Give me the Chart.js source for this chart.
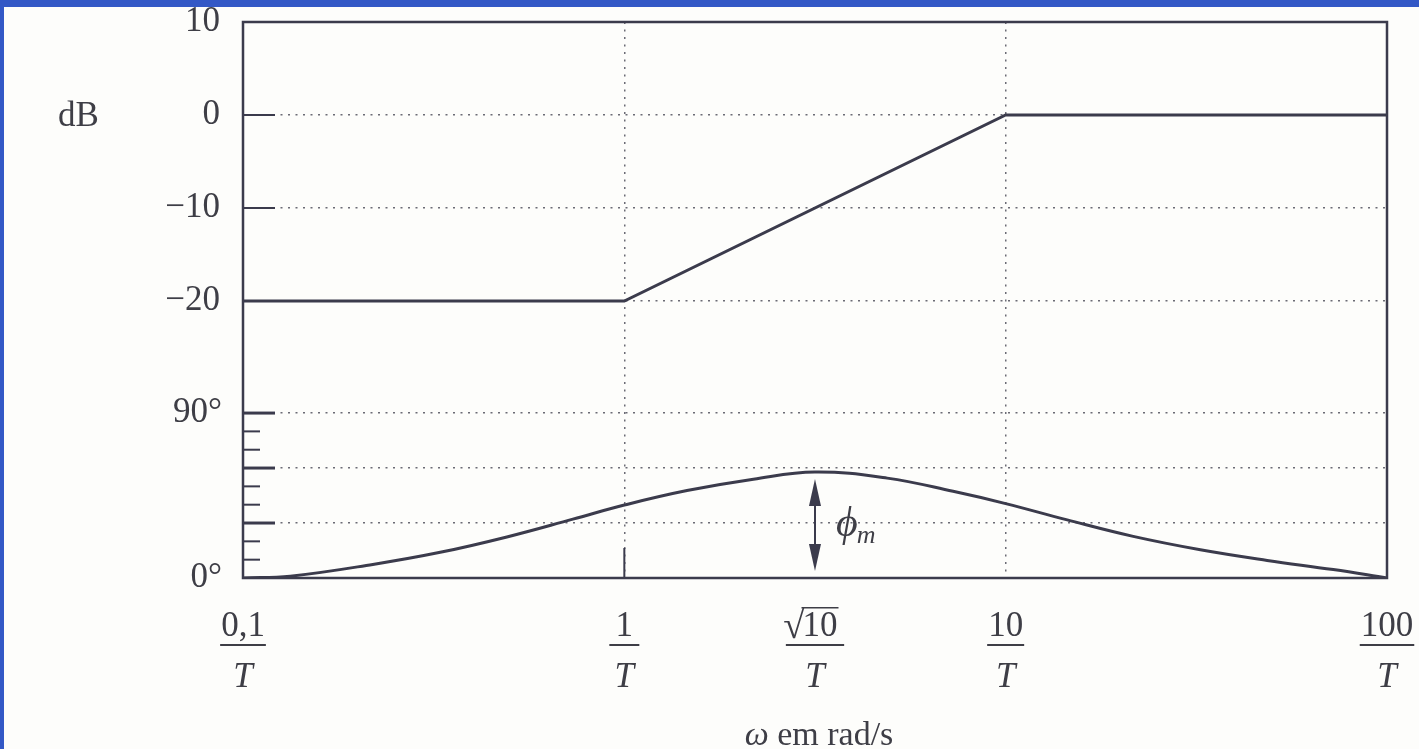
<!DOCTYPE html>
<html>
<head>
<meta charset="utf-8">
<script src="https://cdn.jsdelivr.net/npm/chart.js@4.4.1/dist/chart.umd.min.js"></script>
<style>
  html, body { margin: 0; padding: 0; width: 1419px; height: 749px; background: #3358c6; overflow: hidden; }
  #frame { position: absolute; left: 4px; top: 7px; width: 1415px; height: 742px; background: #fdfdfb; }
</style>
</head>
<body>
<div id="frame"><canvas id="bode"></canvas></div>
<script>
// Frequencies are in units of 1/T (logarithmic axis).
const omegaTicks = [0.1, 1, Math.sqrt(10), 10, 100];
const omegaNumerators = ['0,1', '1', '√10', '10', '100'];
const omegaGridLines = [1, 10];

// Asymptotic magnitude (dB)
const magOmega = [0.1, 1, 10, 100];
const magDb = [-20, -20, 0, 0];

// Phase of the lead network (degrees)
const phaseOmega = [0.1, 0.133, 0.219, 0.329, 0.492, 0.733, 1, 1.46, 2.18, 3.162, 4.89, 7.28, 10, 14.5, 21.6, 32.4, 48.5, 72.3, 100];
const phaseDeg   = [0, 1.0, 7.4, 14.0, 22.4, 32.1, 39.8, 47.7, 53.9, 57.8, 54.5, 47.3, 40.6, 31.7, 22.7, 15.4, 9.6, 4.6, 0];

// Tick sets
const dbTicks = [-20, -10, 0, 10];
const dbGridLines = [-20, -10, 0];
const degTicks = [0, 10, 20, 30, 40, 50, 60, 70, 80, 90];
const degLabelled = [0, 90];
const degMajor = [30, 60, 90];

const ink = '#3b3b4c';
const textInk = '#3e3e46';
const dots = '#6b6b75';
const clear = 'rgba(0,0,0,0)';
const serif = '"Liberation Serif", "Times New Roman", serif';

const toPoints = (xs, ys) => xs.map((x, i) => ({ x: x, y: ys[i] }));
const fmtDb = v => (v < 0 ? '\u2212' + Math.abs(v) : String(v));

const bodeDecor = {
  id: 'bodeDecor',
  afterDraw(chart) {
    const ctx = chart.ctx;
    const area = chart.chartArea;
    const xs = chart.scales.x;
    const ym = chart.scales.yMag;
    const yp = chart.scales.yPhase;
    ctx.save();

    // inward tick marks on the left edge
    ctx.strokeStyle = ink;
    ctx.lineCap = 'butt';
    dbGridLines.forEach(v => {
      const y = ym.getPixelForValue(v);
      ctx.lineWidth = 2;
      ctx.beginPath(); ctx.moveTo(area.left, y); ctx.lineTo(area.left + 32, y); ctx.stroke();
    });
    degTicks.forEach(v => {
      if (v === 0) return;
      const y = yp.getPixelForValue(v);
      const major = degMajor.includes(v);
      ctx.lineWidth = major ? 3 : 2;
      ctx.beginPath(); ctx.moveTo(area.left, y); ctx.lineTo(area.left + (major ? 32 : 17), y); ctx.stroke();
    });
    // short solid tick at 1/T on the bottom edge
    {
      const x = xs.getPixelForValue(1);
      ctx.lineWidth = 2;
      ctx.beginPath(); ctx.moveTo(x, area.bottom); ctx.lineTo(x, area.bottom - 30); ctx.stroke();
    }

    // plot frame
    ctx.lineWidth = 2.5;
    ctx.strokeRect(area.left, area.top, area.right - area.left, area.bottom - area.top);

    // phase-margin arrow at sqrt(10)/T
    const phiMax = Math.max(...phaseDeg);
    const ax = xs.getPixelForValue(phaseOmega[phaseDeg.indexOf(phiMax)]);
    const yTop = yp.getPixelForValue(phiMax) + 7;
    const yBot = yp.getPixelForValue(0) - 7;
    ctx.lineWidth = 2;
    ctx.beginPath(); ctx.moveTo(ax, yTop + 10); ctx.lineTo(ax, yBot - 10); ctx.stroke();
    ctx.fillStyle = ink;
    ctx.beginPath(); ctx.moveTo(ax, yTop); ctx.lineTo(ax - 6, yTop + 27); ctx.lineTo(ax + 6, yTop + 27); ctx.closePath(); ctx.fill();
    ctx.beginPath(); ctx.moveTo(ax, yBot); ctx.lineTo(ax - 6, yBot - 27); ctx.lineTo(ax + 6, yBot - 27); ctx.closePath(); ctx.fill();

    // phi_m label
    ctx.fillStyle = textInk;
    ctx.textAlign = 'left';
    ctx.textBaseline = 'alphabetic';
    const yMid = (yTop + yBot) / 2;
    ctx.font = 'italic 42px ' + serif;
    ctx.fillText('\u03D5', ax + 21, yMid + 11);
    const phiW = ctx.measureText('\u03D5').width;
    ctx.font = 'italic 26px ' + serif;
    ctx.fillText('m', ax + 21 + phiW - 1, yMid + 18);

    // "dB" beside the 0 dB level
    ctx.font = '35px ' + serif;
    ctx.textBaseline = 'middle';
    ctx.fillText('dB', 54, ym.getPixelForValue(0) + 2);

    // frequency labels as fractions k/T
    ctx.textBaseline = 'alphabetic';
    ctx.textAlign = 'center';
    const numBase = area.bottom + 58;
    const barY = area.bottom + 67;
    const denBase = area.bottom + 109;
    omegaTicks.forEach((v, i) => {
      const x = xs.getPixelForValue(v);
      const label = omegaNumerators[i];
      ctx.font = '35px ' + serif;
      let fullW;
      if (label.startsWith('√')) {
        const body = label.slice(1);
        const bm = ctx.measureText(body);
        const bw = bm.width;
        const cx = x + 5;
        ctx.fillText(body, cx, numBase);
        // radical sized so its top meets the vinculum above the digits
        const topY = numBase - bm.actualBoundingBoxAscent - 5;
        const probe = ctx.measureText('√');
        const size = 35 * (numBase + 2 - topY) / Math.max(probe.actualBoundingBoxAscent, 1);
        ctx.font = size.toFixed(1) + 'px ' + serif;
        const rm = ctx.measureText('√');
        const rx = cx - bw / 2 - rm.width + 2;
        ctx.textAlign = 'left';
        ctx.fillText('√', rx, numBase + 2);
        ctx.textAlign = 'center';
        const rTop = numBase + 2 - rm.actualBoundingBoxAscent;
        ctx.strokeStyle = textInk;
        ctx.lineWidth = 1.6;
        ctx.beginPath(); ctx.moveTo(rx + rm.width - 3, rTop + 0.8); ctx.lineTo(cx + bw / 2 + 1, rTop + 0.8); ctx.stroke();
        fullW = bw + rm.width;
      } else {
        fullW = ctx.measureText(label).width;
        ctx.fillText(label, x, numBase);
      }
      const barW = Math.max(fullW + 2, 30);
      ctx.strokeStyle = textInk;
      ctx.lineWidth = 2;
      ctx.beginPath(); ctx.moveTo(x - barW / 2, barY); ctx.lineTo(x + barW / 2, barY); ctx.stroke();
      ctx.font = 'italic 35px ' + serif;
      ctx.fillText('T', x, denBase);
    });

    // axis title
    const midX = (area.left + area.right) / 2;
    const titleBase = chart.height - 4;
    ctx.font = 'italic 34px ' + serif;
    const wOmega = ctx.measureText('\u03C9').width;
    ctx.font = '34px ' + serif;
    const rest = ' em rad/s';
    const wRest = ctx.measureText(rest).width;
    const start = midX - (wOmega + wRest) / 2 + 4;
    ctx.textAlign = 'left';
    ctx.font = 'italic 34px ' + serif;
    ctx.fillText('\u03C9', start, titleBase);
    ctx.font = '34px ' + serif;
    ctx.fillText(rest, start + wOmega, titleBase);

    ctx.restore();
  }
};

new Chart(document.getElementById('bode'), {
  type: 'line',
  data: {
    datasets: [
      {
        label: 'Módulo (dB)',
        data: toPoints(magOmega, magDb),
        yAxisID: 'yMag',
        borderColor: ink,
        borderWidth: 3,
        pointRadius: 0,
        tension: 0
      },
      {
        label: 'Fase (graus)',
        data: toPoints(phaseOmega, phaseDeg),
        yAxisID: 'yPhase',
        borderColor: ink,
        borderWidth: 3,
        pointRadius: 0,
        tension: 0.4
      }
    ]
  },
  options: {
    responsive: true,
    maintainAspectRatio: false,
    animation: false,
    layout: { padding: { top: 15, right: 32, left: 0, bottom: 0 } },
    plugins: { legend: { display: false }, tooltip: { enabled: false } },
    scales: {
      x: {
        type: 'logarithmic',
        min: 0.1,
        max: 100,
        afterBuildTicks: s => { s.ticks = omegaTicks.map(v => ({ value: v })); },
        afterFit: s => { s.height = 171; s.paddingLeft = 0; s.paddingRight = 0; },
        ticks: { display: false },
        grid: {
          drawTicks: false,
          lineWidth: 1.5,
          color: c => (c.tick && omegaGridLines.includes(c.tick.value)) ? dots : clear
        },
        border: { display: false, dash: [2, 5.5] }
      },
      yMag: {
        type: 'linear',
        position: 'left',
        stack: 'bode',
        stackWeight: 334.8,
        weight: 2,
        min: -26,
        max: 10,
        afterBuildTicks: s => { s.ticks = dbTicks.map(v => ({ value: v })); },
        afterFit: s => { s.width = 239; s.paddingTop = 0; s.paddingBottom = 0; },
        ticks: {
          autoSkip: false,
          padding: 23,
          color: textInk,
          font: { family: serif, size: 35 },
          callback: v => fmtDb(v)
        },
        grid: {
          drawTicks: false,
          lineWidth: 1.5,
          color: c => (c.tick && dbGridLines.includes(c.tick.value)) ? dots : clear
        },
        border: { display: false, dash: [2, 5.5] }
      },
      yPhase: {
        type: 'linear',
        position: 'left',
        stack: 'bode',
        stackWeight: 221.2,
        weight: 1,
        min: 0,
        max: 120.7,
        afterBuildTicks: s => { s.ticks = degTicks.map(v => ({ value: v })); },
        afterFit: s => { s.width = 239; s.paddingTop = 0; s.paddingBottom = 0; },
        ticks: {
          autoSkip: false,
          padding: 21,
          color: textInk,
          font: { family: serif, size: 35 },
          callback: v => (degLabelled.includes(v) ? v + '°' : '')
        },
        grid: {
          drawTicks: false,
          lineWidth: 1.5,
          color: c => (c.tick && degMajor.includes(c.tick.value)) ? dots : clear
        },
        border: { display: false, dash: [2, 5.5] }
      }
    }
  },
  plugins: [bodeDecor]
});
</script>
</body>
</html>
